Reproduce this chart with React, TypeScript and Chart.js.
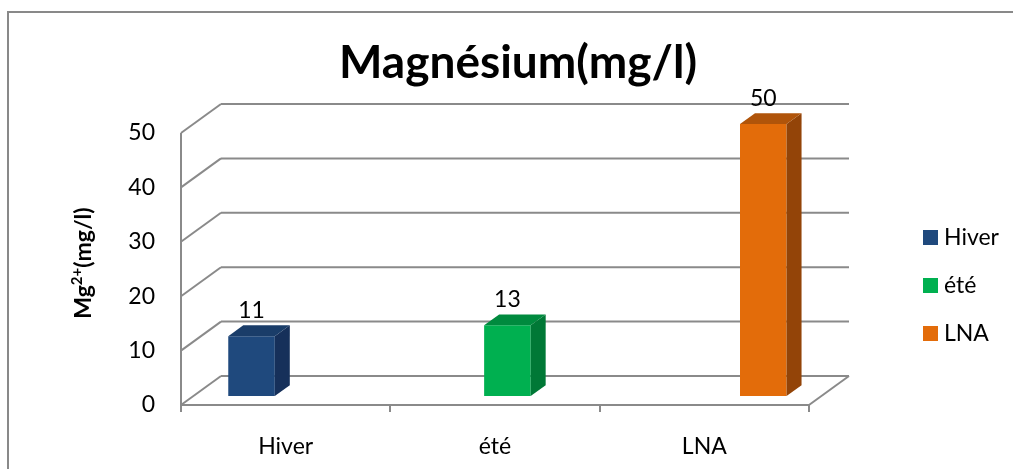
import React, { useEffect, useRef } from "react";
import { Chart, registerables } from "chart.js";

Chart.register(...registerables);

// ---- data ----
const categories = ["Hiver", "été", "LNA"];
const seriesNames = ["Hiver", "été", "LNA"];
const hiverValues = [11, null, null];
const eteValues = [null, 13, null];
const lnaValues = [null, null, 50];
const yTicks = [0, 10, 20, 30, 40, 50];

const chartTitle = "Magnésium(mg/l)";
const yTitleMain = "Mg";
const yTitleSup = "2+";
const yTitleTail = "(mg/l)";

// ---- styling ----
const FONT = "Lato";
const GRID = "#8a8a8a";
const frontColors = ["#1F497D", "#00B050", "#E36C0A"];
const topColors = ["#1a3d69", "#008a3e", "#b0540a"];
const sideColors = ["#16305a", "#007836", "#934408"];

// oblique projection of the wall depth
const DEPTH_DX = 40;
const DEPTH_DY = -29;
const BAR_PLANE = 0.31; // depth at which the bar fronts stand
const BAR_DEPTH = 0.375; // thickness of the bars along the depth axis

const line = (ctx: CanvasRenderingContext2D, x1: number, y1: number, x2: number, y2: number) => {
  ctx.beginPath();
  ctx.moveTo(x1, y1);
  ctx.lineTo(x2, y2);
  ctx.stroke();
};

const box3d = {
  id: "box3d",
  beforeDatasetsDraw(chart: any) {
    const { ctx, chartArea: a, scales } = chart;
    const y = scales.y;
    ctx.save();
    ctx.strokeStyle = GRID;
    ctx.lineWidth = 2;
    // back wall grid lines and left wall diagonals
    for (const v of yTicks) {
      const py = y.getPixelForValue(v);
      line(ctx, a.left, py, a.left + DEPTH_DX, py + DEPTH_DY);
      line(ctx, a.left + DEPTH_DX, py + DEPTH_DY, a.right + DEPTH_DX, py + DEPTH_DY);
    }
    // front vertical edge of the side wall
    line(ctx, a.left, y.getPixelForValue(yTicks[yTicks.length - 1]), a.left, y.getPixelForValue(0));
    // right edge of the floor
    const y0 = y.getPixelForValue(0);
    line(ctx, a.right, y0, a.right + DEPTH_DX, y0 + DEPTH_DY);
    ctx.restore();

    // bars stand partway into the depth
    ctx.save();
    ctx.translate(DEPTH_DX * BAR_PLANE, DEPTH_DY * BAR_PLANE);
  },
  afterDatasetsDraw(chart: any) {
    const { ctx } = chart;
    const bdx = DEPTH_DX * BAR_DEPTH;
    const bdy = DEPTH_DY * BAR_DEPTH;
    chart.data.datasets.forEach((ds: any, di: number) => {
      const meta = chart.getDatasetMeta(di);
      meta.data.forEach((el: any, i: number) => {
        const v = ds.data[i];
        if (v === null || v === undefined) return;
        const { x, y, base, width } = el.getProps(["x", "y", "base", "width"], true);
        const l = x - width / 2;
        const r = x + width / 2;
        // side face
        ctx.fillStyle = sideColors[di];
        ctx.beginPath();
        ctx.moveTo(r, y);
        ctx.lineTo(r + bdx, y + bdy);
        ctx.lineTo(r + bdx, base + bdy);
        ctx.lineTo(r, base);
        ctx.closePath();
        ctx.fill();
        // top face
        ctx.fillStyle = topColors[di];
        ctx.beginPath();
        ctx.moveTo(l, y);
        ctx.lineTo(l + bdx, y + bdy);
        ctx.lineTo(r + bdx, y + bdy);
        ctx.lineTo(r, y);
        ctx.closePath();
        ctx.fill();
        // value label
        ctx.fillStyle = "#000";
        ctx.font = `23px ${FONT}`;
        ctx.textAlign = "center";
        ctx.textBaseline = "alphabetic";
        ctx.fillText(String(v), x, y - 18);
      });
    });
    ctx.restore();
  },
  afterDraw(chart: any) {
    const { ctx } = chart;
    ctx.save();
    // outer frame
    ctx.strokeStyle = "#898989";
    ctx.lineWidth = 2;
    ctx.strokeRect(8, 12, 1100, 600);

    // title
    ctx.fillStyle = "#000";
    ctx.font = `bold 46px ${FONT}`;
    ctx.textAlign = "center";
    ctx.textBaseline = "alphabetic";
    ctx.fillText(chartTitle, 518, 78);

    // y axis title, rotated, with a superscript charge
    ctx.save();
    ctx.translate(91, 263);
    ctx.rotate(-Math.PI / 2);
    ctx.textBaseline = "alphabetic";
    ctx.textAlign = "left";
    const mainFont = `bold 23px ${FONT}`;
    const supFont = `bold 15px ${FONT}`;
    ctx.font = mainFont;
    const w1 = ctx.measureText(yTitleMain).width;
    const w3 = ctx.measureText(yTitleTail).width;
    ctx.font = supFont;
    const w2 = ctx.measureText(yTitleSup).width;
    let xx = -(w1 + w2 + w3) / 2;
    ctx.font = mainFont;
    ctx.fillText(yTitleMain, xx, 0);
    xx += w1;
    ctx.font = supFont;
    ctx.fillText(yTitleSup, xx, -9);
    xx += w2;
    ctx.font = mainFont;
    ctx.fillText(yTitleTail, xx, 0);
    ctx.restore();

    // legend
    ctx.font = `23px ${FONT}`;
    ctx.textAlign = "left";
    ctx.textBaseline = "middle";
    chart.data.datasets.forEach((ds: any, i: number) => {
      const top = 230 + i * 48;
      ctx.fillStyle = ds.backgroundColor;
      ctx.fillRect(923, top, 15, 15);
      ctx.fillStyle = "#000";
      ctx.fillText(ds.label, 944, top + 8);
    });
    ctx.restore();
  },
};

export default function App() {
  const ref = useRef<HTMLCanvasElement | null>(null);

  useEffect(() => {
    if (!ref.current) return;
    const series = [hiverValues, eteValues, lnaValues];
    const chart = new Chart(ref.current, {
      type: "bar",
      data: {
        labels: categories,
        datasets: series.map((data, i) => ({
          label: seriesNames[i],
          data,
          backgroundColor: frontColors[i],
          borderWidth: 0,
          categoryPercentage: 0.667,
          barPercentage: 1,
          clip: false,
        })),
      },
      options: {
        responsive: false,
        animation: false,
        events: [],
        layout: { padding: { top: 133, right: 204, bottom: 0, left: 0 } },
        plugins: {
          legend: { display: false },
          title: { display: false },
          tooltip: { enabled: false },
        },
        scales: {
          x: {
            grid: {
              display: true,
              drawOnChartArea: false,
              drawTicks: true,
              tickLength: 7,
              color: GRID,
              lineWidth: 2,
            },
            border: { display: true, color: GRID, width: 2 },
            ticks: { color: "#000", font: { family: FONT, size: 23 }, padding: 21 },
            afterFit: (s: any) => {
              s.height = 64;
            },
          },
          y: {
            min: 0,
            max: 50,
            grid: { display: false, drawTicks: false },
            border: { display: false },
            ticks: {
              stepSize: 10,
              color: "#000",
              padding: 26,
              font: { family: FONT, size: 23 },
            },
            afterFit: (s: any) => {
              s.width = 181;
            },
          },
        },
      },
      plugins: [box3d],
    });
    return () => chart.destroy();
  }, []);

  return (
    <div style={{ position: "absolute", left: 0, top: 0, width: 1013, height: 469, background: "#fff" }}>
      <canvas ref={ref} width={1013} height={469} />
    </div>
  );
}
